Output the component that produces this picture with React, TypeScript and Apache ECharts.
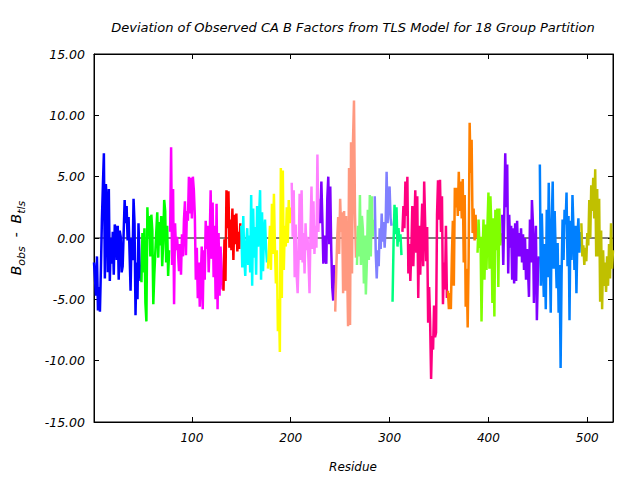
import React, { useEffect, useRef } from "react";
import * as echarts from "echarts";

const xMin = 1;
const xMax = 526;
const xTicks = [100, 200, 300, 400, 500];

const titleText = "Deviation of Observed CA B Factors from TLS Model for 18 Group Partition";
const xName = "Residue";

const groupColors = [
  "#0000ff", "#00ff00", "#ff00ff", "#ff0000", "#00ffff", "#ffff00",
  "#ff80ff", "#8000ff", "#ff9980", "#80ff80", "#8080ff", "#00ff80",
  "#ff0080", "#ff8000", "#80ff00", "#8000ff", "#0080ff", "#c0c000",
];

const g01 = [-2.0,-3.3,-4.7,-1.5,-5.9,-4.0,-6.0,-2.5,1.5,4.3,6.9,-3.3,4.4,2.9,-2.8,4.0,-3.5,0.0,-2.1,0.5,-3.0,1.1,0.7,-1.8,1.0,-3.4,0.6,0.1,-2.8,-2.3,0.4,3.1,1.2,2.6,-0.2,1.7,-1.3,-4.3,0.0,-1.8,3.2,1.2,-6.3,-2.0,-5.0,1.2,-1.8,-3.5];
const g02 = [-3.6,0.4,-2.8,0.8,-5.3,-6.8,2.5,0.1,1.8,-1.5,1.9,0.6,-5.4,-3.0,-1.2,0.5,2.1,-1.6,1.3,-0.6,1.8,-2.3,-0.4,3.1,2.2,-2.0,1.0,-3.1,-1.0];
const g03 = [0.5,7.4,-2.2,4.0,-5.4,1.2,-1.0,0.1,-1.2,-2.7,-0.5,-3.0,0.3,-1.5,1.5,3.0,-1.4,2.2,1.4,5.0,2.0,4.9,1.6,5.0,3.9,1.8,-3.4,-0.8,-4.9,-2.0,-5.6,-3.3,-0.7,-5.8,-1.0,-3.4,1.4,-0.9,1.0,-2.8,-0.3,3.9,-1.7,2.9,-3.2,1.0,-5.0,2.8,-5.8,0.4,-4.7,-0.7,-2.3,-4.2];
const g04 = [-4.3,-0.1,-3.5,3.9,0.8,3.8,-0.8,1.5,-1.0,2.4,-1.8,1.9,-0.5,2.0,-1.1,0.5,-0.9,1.2];
const g05 = [1.0,-2.4,1.8,-1.5,-3.1,-0.5,0.8,-2.2,0.2,-2.8,3.5,-3.9,2.4,-1.6,0.9,-3.0,2.6,-0.7,1.8,3.9,-3.4,2.1,-2.7,0.6,1.5,-0.8,-2.0];
const g06 = [-2.5,-0.9,1.0,-2.6,2.8,-1.3,3.6,-0.7,-3.7,-1.0,-7.6,-5.0,-9.3,5.7,-4.9,5.5,-2.6,1.0,-0.7,2.5,-0.4,3.1,1.2,2.5];
const g07 = [4.5,0.1,3.9,-3.2,1.1,-3.0,-4.5,-1.5,3.6,-1.8,3.9,-2.0,0.4,-2.9,1.2,-1.0,0.1,-1.9,-4.5,0.6,4.2,-0.9,3.0,-1.3,1.0,-0.8,6.8,0.5,3.2];
const g08 = [1.2,4.6,1.5,-2.1,0.2,-1.7,-2.1,3.2,5.0,-0.5,4.2,-1.0,-4.0,-5.1,-2.2];
const g09 = [-6.0,-2.9,-0.1,1.7,-1.3,3.2,0.5,2.1,-4.5,2.2,-4.3,1.8,-2.0,-7.2,5.7,-7.1,7.8,-2.9,7.9,11.2,2.0,-1.6];
const g10 = [-2.2,1.0,-1.5,3.5,-2.2,1.8,0.7,-3.7,0.2,-4.6,-2.0,2.3,-1.8,3.5,-1.5,3.4,0.1,1.5];
const g11 = [3.4,-1.2,-3.3,-1.0,-2.3,0.8,-0.9,2.0,-0.3,1.3,-0.8,1.0,5.4,1.2,3.3,4.2,1.6,1.0];
const g12 = [-5.2,-0.5,2.7,0.3,2.5,-0.7,0.8,-0.3,0.3,-1.4];
const g13 = [0.5,2.6,0.8,4.6,1.8,5.0,-2.9,-0.5,-3.5,-1.0,2.6,-2.3,0.6,3.9,-1.2,3.4,-4.9,1.0,-3.0,0.2,2.8,-2.3,4.6,1.2,-1.9,0.9,-6.9,-4.0,-6.8,-11.5,-8.0,-9.1,-5.5,-8.1,-7.7,1.9,4.7,1.5,4.75,0.5,3.4,-5.4,-2.0,-4.2,1.0,-4.9];
const g14 = [-4.3,-5.8,-4.5,-5.8,-1.5,1.4,-3.9,4.1,2.5,4.1,1.8,5.4,2.2,4.6,1.6,4.8,-2.0,3.5,-5.6,-2.5,-7.3,-1.5,9.4,5.3,8.0,0.4,2.4,-0.2,1.9,0.0];
const g15 = [-1.2,1.5,-0.8,0.1,-6.8,-1.5,1.5,-3.4,1.1,-2.6,1.0,3.7,-2.5,3.4,0.9,-5.3,1.6,-6.4,2.3,-1.0,2.4,-4.0,2.4,-0.6,0.4];
const g16 = [1.9,-2.2,1.8,6.9,2.5,6.0,-2.9,1.9,-0.8,1.0,-3.4,0.8,-3.7,1.2,-3.5,1.4,-1.5,0.4,-1.5,0.8,-2.0,0.3,-2.6,0.0,-3.4,-0.9,-2.5,-4.8,1.5,-2.0,3.1,1.2,-5.3,-1.0,1.0,-6.7,-3.0,-1.5];
const g17 = [6.0,-3.9,2.0,-1.5,-4.8,-0.5,-5.8,2.3,-3.2,4.5,-1.0,-6.1,1.2,4.6,-2.5,2.2,-1.1,-4.1,-0.4,-6.1,-2.2,-10.6,-3.0,1.5,-1.8,2.3,1.1,3.7,-2.3,1.8,-6.7,1.4,-1.8,3.5,0.8,-2.6,1.0,-4.5,0.1,1.6,-1.2,0.5];
const g18 = [1.2,-1.5,-0.6,-2.2,-0.8,-1.9,0.4,-0.6,3.1,0.0,4.3,2.2,4.9,1.6,5.6,-1.5,4.0,-1.5,3.2,-5.2,0.6,-5.8,-1.0,-3.9,-2.0,-4.4,-1.5,-3.9,-0.5,-3.3,1.2,-2.5,-1.0];

const groups = [g01,g02,g03,g04,g05,g06,g07,g08,g09,g10,g11,g12,g13,g14,g15,g16,g17,g18];

const FONT = "'DejaVu Sans', sans-serif";

export default function App() {
  const ref = useRef<HTMLDivElement>(null);
  useEffect(() => {
    if (!ref.current) return;
    const chart = echarts.init(ref.current, null, { renderer: "svg" });
    const series: any[] = [];
    series.push({
      type: "line",
      data: [[xMin, 0], [xMax, 0]],
      showSymbol: false,
      lineStyle: { color: "#000", width: 1 },
      z: 1,
      silent: true,
    });
    let start = xMin;
    groups.forEach((vals, gi) => {
      const s = start;
      series.push({
        type: "line",
        name: "group " + (gi + 1),
        data: vals.map((v, i) => [s + i, v]),
        showSymbol: false,
        symbol: "none",
        color: groupColors[gi],
        lineStyle: { color: groupColors[gi], width: 2.5 },
        z: 2,
      });
      start += vals.length;
    });

    const labelStyle = { fontFamily: FONT, fontStyle: "italic", fontSize: 12, color: "#000" };
    chart.setOption({
      animation: false,
      backgroundColor: "#fff",
      grid: {
        left: 94, right: 27, top: 54, bottom: 58,
        show: true, borderColor: "#000", borderWidth: 1,
        containLabel: false, outerBoundsMode: "none",
      },
      xAxis: [
        {
          type: "value", min: xMin, max: xMax, position: "bottom",
          axisLine: { show: true, onZero: false, lineStyle: { color: "#000", width: 1 } },
          axisTick: { show: true, inside: true, length: 5, customValues: xTicks, lineStyle: { color: "#000" } },
          axisLabel: { ...labelStyle, margin: 10, customValues: xTicks, formatter: (v: number) => String(v) },
          splitLine: { show: false },
        },
        {
          type: "value", min: xMin, max: xMax, position: "top",
          axisLine: { show: true, onZero: false, lineStyle: { color: "#000", width: 1 } },
          axisTick: { show: true, inside: true, length: 5, customValues: xTicks, lineStyle: { color: "#000" } },
          axisLabel: { show: false },
          splitLine: { show: false },
        },
      ],
      yAxis: [
        {
          type: "value", min: -15, max: 15, interval: 5, position: "left",
          axisLine: { show: true, onZero: false, lineStyle: { color: "#000", width: 1 } },
          axisTick: { show: true, inside: true, length: 5, lineStyle: { color: "#000" } },
          axisLabel: { ...labelStyle, fontSize: 12.5, margin: 9, formatter: (v: number) => v.toFixed(2) },
          splitLine: { show: false },
        },
        {
          type: "value", min: -15, max: 15, interval: 5, position: "right",
          axisLine: { show: true, onZero: false, lineStyle: { color: "#000", width: 1 } },
          axisTick: { show: true, inside: true, length: 5, lineStyle: { color: "#000" } },
          axisLabel: { show: false },
          splitLine: { show: false },
        },
      ],
      graphic: [
        {
          type: "text", x: 353, y: 27,
          style: { text: titleText, align: "center", verticalAlign: "middle", font: "italic 13px " + FONT, fill: "#000" },
        },
        {
          type: "text", x: 353, y: 467,
          style: { text: xName, align: "center", verticalAlign: "middle", font: "italic 12px " + FONT, fill: "#000" },
        },
        {
          type: "text", x: 17, y: 238, rotation: Math.PI / 2,
          style: {
            text: "{b|B}{s|obs}{b|  -  B}{s|tls}",
            align: "center", verticalAlign: "middle", fill: "#000",
            rich: {
              b: { fontFamily: FONT, fontStyle: "italic", fontSize: 14, lineHeight: 16, verticalAlign: "top", fill: "#000" },
              s: { fontFamily: FONT, fontStyle: "italic", fontSize: 11, lineHeight: 12, padding: [7, 0, 0, 0], verticalAlign: "top", fill: "#000" },
            },
          },
        },
      ],
      series,
    });
    return () => chart.dispose();
  }, []);
  return <div ref={ref} style={{ position: "fixed", left: 0, top: 0, width: 640, height: 480 }} />;
}
